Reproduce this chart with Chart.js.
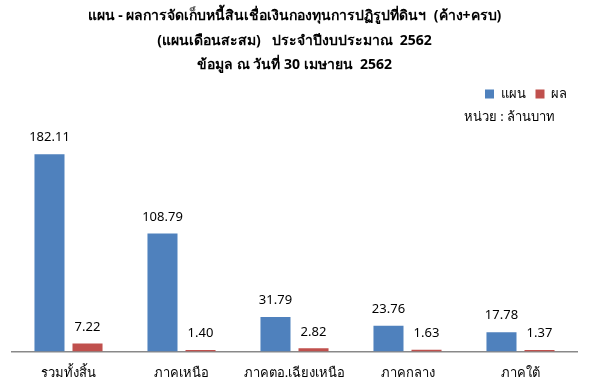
<!DOCTYPE html>
<html>
<head>
<meta charset="utf-8">
<script src="https://cdn.jsdelivr.net/npm/chart.js@4"></script>
<style>
  body { margin: 0; background: #fff; }
  #wrap { width: 591px; height: 390px; }
</style>
</head>
<body>
<div id="wrap"><canvas id="debtChart"></canvas></div>
<script>
const regions = ['รวมทั้งสิ้น', 'ภาคเหนือ', 'ภาคตอ.เฉียงเหนือ', 'ภาคกลาง', 'ภาคใต้'];
const planValues = [182.11, 108.79, 31.79, 23.76, 17.78];
const actualValues = [7.22, 1.40, 2.82, 1.63, 1.37];
const titleLines = [
    'แผน - ผลการจัดเก็บหนี้สินเชื่อเงินกองทุนการปฏิรูปที่ดินฯ  (ค้าง+ครบ)',
    '(แผนเดือนสะสม)   ประจำปีงบประมาณ  2562',
    'ข้อมูล ณ วันที่ 30 เมษายน  2562'
];
const unitText = 'หน่วย : ล้านบาท';

const FONT = "Tahoma, 'Noto Sans', sans-serif";

// value labels above bars + unit text under legend
const labelPlugin = {
    id: 'labelPlugin',
    afterDatasetsDraw(chart) {
        const ctx = chart.ctx;
        ctx.save();
        ctx.font = '13px ' + FONT;
        ctx.fillStyle = '#000';
        ctx.textAlign = 'center';
        ctx.textBaseline = 'bottom';
        chart.data.datasets.forEach((ds, i) => {
            chart.getDatasetMeta(i).data.forEach((bar, j) => {
                ctx.fillText(ds.data[j].toFixed(2), bar.x, bar.y - 10);
            });
        });
        ctx.textAlign = 'right';
        ctx.textBaseline = 'middle';
        ctx.fillText(unitText, 555, 117);
        ctx.restore();
    }
};

new Chart(document.getElementById('debtChart').getContext('2d'), {
    type: 'bar',
    data: {
        labels: regions,
        datasets: [{
            label: 'แผน',
            data: planValues,
            backgroundColor: '#4f81bd',
            categoryPercentage: 0.673,
            barPercentage: 0.79
        }, {
            label: 'ผล',
            data: actualValues,
            backgroundColor: '#c0504d',
            categoryPercentage: 0.673,
            barPercentage: 0.79
        }]
    },
    options: {
        responsive: true,
        maintainAspectRatio: false,
        animation: false,
        layout: { padding: { left: 12, right: 14, top: 4, bottom: 3 } },
        plugins: {
            title: {
                display: true,
                text: titleLines,
                color: '#000',
                font: { family: FONT, size: 14, weight: 'bold', lineHeight: 1.75 },
                padding: { top: 0, bottom: 0 }
            },
            legend: {
                align: 'end',
                labels: {
                    color: '#000',
                    font: { family: FONT, size: 13 },
                    boxWidth: 9,
                    boxHeight: 9,
                    padding: 10
                }
            },
            tooltip: { enabled: false }
        },
        scales: {
            x: {
                grid: { display: false },
                border: { display: true, color: '#898989', width: 1.5 },
                ticks: { color: '#000', font: { family: FONT, size: 13 }, padding: 6 }
            },
            y: {
                display: false,
                min: 0,
                max: 222.5
            }
        }
    },
    plugins: [labelPlugin]
});
</script>
</body>
</html>
